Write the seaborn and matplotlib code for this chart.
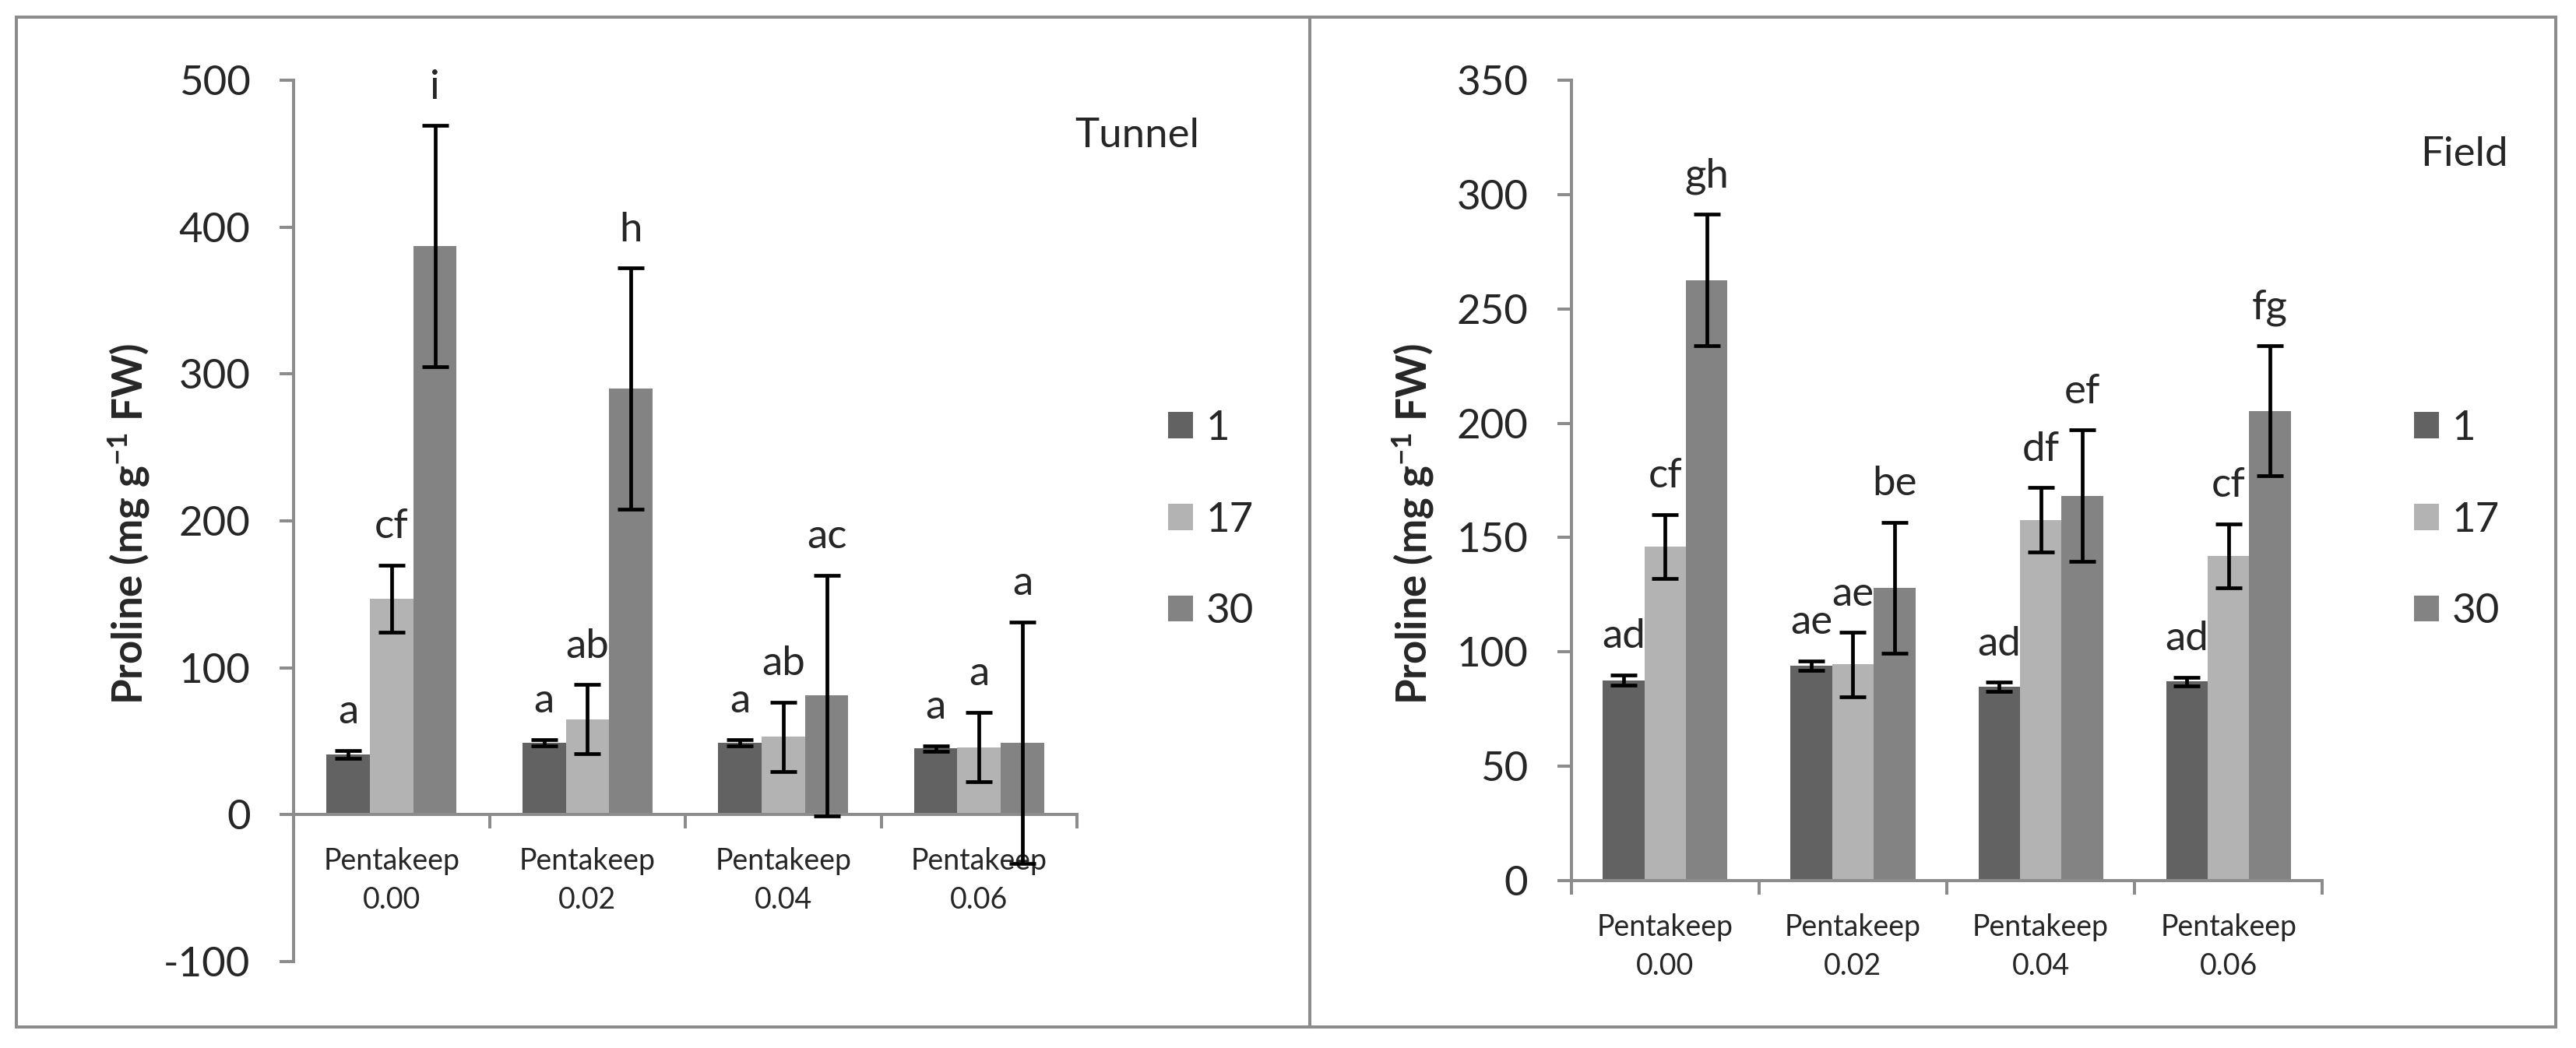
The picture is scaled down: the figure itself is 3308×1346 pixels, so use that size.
import matplotlib
matplotlib.use("Agg")
import pandas as pd
import matplotlib.pyplot as plt
import seaborn as sns
from matplotlib.patches import Rectangle
from matplotlib.ticker import FixedLocator

# ---------------- data ----------------
doses = ["Pentakeep\n0.00", "Pentakeep\n0.02", "Pentakeep\n0.04", "Pentakeep\n0.06"]
days = ["1", "17", "30"]

tunnel_1 = [41, 49, 49, 45]
tunnel_17 = [147, 65, 53, 46]
tunnel_30 = [387, 290, 81, 49]
tunnel_err_1 = [2.5, 2, 2, 2]
tunnel_err_17 = [23, 23.5, 23.5, 23.5]
tunnel_err_30 = [82, 82, 82, 82]
tunnel_letters_1 = ["a", "a", "a", "a"]
tunnel_letters_17 = ["cf", "ab", "ab", "a"]
tunnel_letters_30 = ["i", "h", "ac", "a"]

field_1 = [87.6, 94, 84.7, 87]
field_17 = [146, 94.5, 157.8, 142]
field_30 = [262.6, 128, 168.3, 205.4]
field_err_1 = [2.3, 2, 2, 2]
field_err_17 = [14, 14, 14, 14]
field_err_30 = [28.8, 28.7, 28.7, 28.5]
field_letters_1 = ["ad", "ae", "ad", "ad"]
field_letters_17 = ["cf", "ae", "df", "cf"]
field_letters_30 = ["gh", "be", "ef", "fg"]

palette = ["#626262", "#b3b3b3", "#838383"]
spine_gray = "#8c8c8c"


def make_frame(vals, errs, letters):
    rows = []
    for day, v, e, l in zip(days, vals, errs, letters):
        for dose, vi, ei, li in zip(doses, v, e, l):
            rows.append({"dose": dose, "day": day, "value": vi, "err": ei, "letter": li})
    return pd.DataFrame(rows)


tunnel = make_frame([tunnel_1, tunnel_17, tunnel_30],
                    [tunnel_err_1, tunnel_err_17, tunnel_err_30],
                    [tunnel_letters_1, tunnel_letters_17, tunnel_letters_30])
field = make_frame([field_1, field_17, field_30],
                   [field_err_1, field_err_17, field_err_30],
                   [field_letters_1, field_letters_17, field_letters_30])

sns.set_style("white")
plt.rcParams["font.family"] = ["Lato", "DejaVu Sans"]
plt.rcParams["axes.unicode_minus"] = False
plt.rcParams["mathtext.default"] = "regular"

fig = plt.figure(figsize=(33.08, 13.46), dpi=100)
ax_t = fig.add_axes([0.1140, 0.0825, 0.3041, 0.8410])
ax_f = fig.add_axes([0.6100, 0.1597, 0.2915, 0.7638])


def draw_panel(ax, df, ylim, yticks, legend_x, label_x, title, title_xy):
    sns.barplot(data=df, x="dose", y="value", hue="day", order=doses, hue_order=days,
                palette=palette, saturation=1, width=0.664, errorbar=None,
                linewidth=0, edgecolor="none", ax=ax)
    for i, day in enumerate(days):
        sub = df[df["day"] == day].set_index("dose").loc[doses]
        xs = [b.get_x() + b.get_width() / 2 for b in ax.containers[i]]
        ax.errorbar(xs, sub["value"], yerr=sub["err"], fmt="none", ecolor="black",
                    elinewidth=3.4, capsize=12, capthick=3.4, zorder=5)
        for x, top, txt in zip(xs, sub["value"] + sub["err"], sub["letter"]):
            ax.annotate(txt, (x, top), xytext=(0, 25), textcoords="offset points",
                        ha="center", va="baseline", fontsize=38)

    ax.set_ylim(*ylim)
    ax.set_xlim(-0.5, 3.5)
    ax.set_yticks(yticks)
    ax.set_xlabel("")
    ax.set_ylabel("Proline (mg g$^{-1}$ FW)", fontsize=38, fontweight="bold")
    ax.yaxis.set_label_coords(label_x, 0.5, transform=fig.transFigure)
    ax.yaxis.label.set_va("baseline")
    ax.yaxis.label.set_x(label_x)

    for s in ["top", "right"]:
        ax.spines[s].set_visible(False)
    for s in ["left", "bottom"]:
        ax.spines[s].set_color(spine_gray)
        ax.spines[s].set_linewidth(2.9)
    ax.spines["bottom"].set_position(("data", 0))

    ax.tick_params(axis="y", which="major", direction="out", length=13, width=2.9,
                   color=spine_gray, labelsize=38, pad=27, left=True)
    ax.tick_params(axis="x", which="major", length=0, labelsize=27, pad=30)
    ax.xaxis.set_minor_locator(FixedLocator([-0.5, 0.5, 1.5, 2.5, 3.5]))
    ax.tick_params(axis="x", which="minor", direction="out", length=13, width=2.9,
                   color=spine_gray, bottom=True)
    for lab in ax.get_xticklabels():
        lab.set_linespacing(1.5)

    sns.move_legend(ax, "center left", bbox_to_anchor=(legend_x, 0.5037),
                    bbox_transform=fig.transFigure, title=None, frameon=False,
                    fontsize=38, handlelength=0.6, handleheight=0.6, handletextpad=0.32,
                    labelspacing=1.34, borderpad=0, borderaxespad=0)

    fig.text(title_xy[0], title_xy[1], title, fontsize=38, ha="left", va="baseline")


draw_panel(ax_t, tunnel, (-100, 500), [-100, 0, 100, 200, 300, 400, 500],
           0.4534, 0.0556, "Tunnel", (0.4172, 0.8596))
draw_panel(ax_f, field, (0, 350), [0, 50, 100, 150, 200, 250, 300, 350],
           0.9371, 0.5541, "Field", (0.9395, 0.8418))

# panel frames
for x0, w in [(0.00635, 0.5021), (0.5085, 0.4837)]:
    fig.add_artist(Rectangle((x0, 0.0201), w, 0.9636, transform=fig.transFigure,
                             fill=False, edgecolor=spine_gray, linewidth=2.9))

fig.savefig("out.png", dpi=100)
